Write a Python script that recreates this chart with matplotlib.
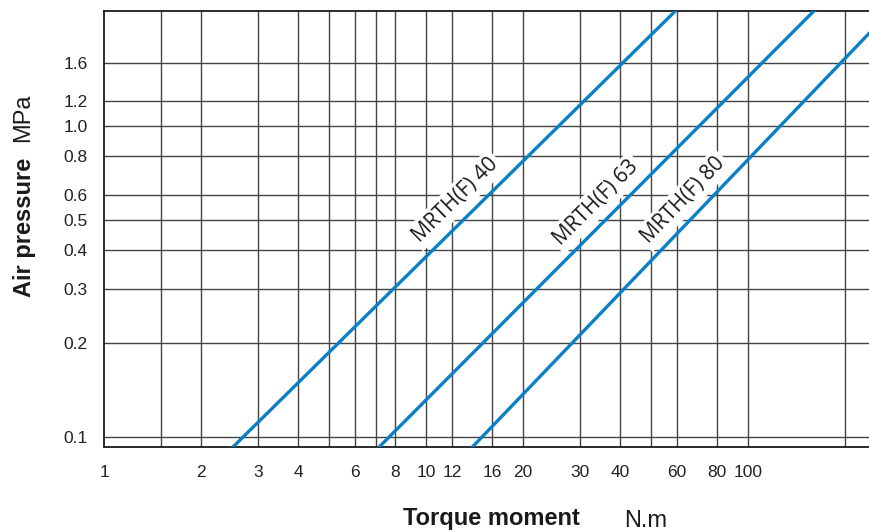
import numpy as np
import matplotlib
matplotlib.use("Agg")
import matplotlib.pyplot as plt
from matplotlib.ticker import FixedLocator, FixedFormatter, NullLocator

# Torque (N.m) read at the bottom and top edge pressures of the chart
series_names = ["MRTH(F) 40", "MRTH(F) 63", "MRTH(F) 80"]
pressure_mpa = [0.09, 2.4]
torque_40 = [2.43, 60.8]
torque_63 = [6.92, 163.7]
torque_80 = [13.5, 283.0]

x_grid = [1.5, 2, 3, 4, 5, 6, 7, 8, 10, 12, 16, 20, 30, 40, 50, 60, 80, 100, 200]
x_ticks = [1, 2, 3, 4, 6, 8, 10, 12, 16, 20, 30, 40, 60, 80, 100]
y_ticks = [0.1, 0.2, 0.3, 0.4, 0.5, 0.6, 0.8, 1.0, 1.2, 1.6]
y_tick_labels = ["0.1", "0.2", "0.3", "0.4", "0.5", "0.6", "0.8", "1.0", "1.2", "1.6"]

W, H = 870, 532
fig = plt.figure(figsize=(W / 100, H / 100), dpi=100)
ax = fig.add_axes([104.5 / W, 1 - 447 / H, 1 - 104.5 / W, (447 - 11) / H])
ax.set_xscale("log")
ax.set_yscale("log")
ax.set_xlim(1, 239)
ax.set_ylim(0.0929, 2.343)

grid_kw = dict(color="#444444", lw=1.0, zorder=1)
for gx in x_grid:
    ax.axvline(gx, **grid_kw)
for gy in y_ticks:
    ax.axhline(gy, **grid_kw)

blue = "#0a80c6"
torques = [torque_40, torque_63, torque_80]
for t in torques:
    ax.plot(t, pressure_mpa, color=blue, lw=2.4, zorder=4, solid_capstyle="butt")

ax.xaxis.set_major_locator(FixedLocator(x_ticks))
ax.xaxis.set_major_formatter(FixedFormatter([str(v) for v in x_ticks]))
ax.xaxis.set_minor_locator(NullLocator())
ax.yaxis.set_major_locator(FixedLocator(y_ticks))
ax.yaxis.set_major_formatter(FixedFormatter(y_tick_labels))
ax.yaxis.set_minor_locator(NullLocator())
ax.tick_params(axis="x", length=0, pad=13, labelsize=12.5, colors="#222222")
ax.tick_params(axis="y", length=0, pad=12, labelsize=12.5, colors="#222222")
for lab in ax.get_xticklabels() + ax.get_yticklabels():
    lab.set_fontfamily("Liberation Sans")

for side in ["left", "bottom", "top"]:
    ax.spines[side].set_color("#1a1a1a")
    ax.spines[side].set_linewidth(1.3)
ax.spines["right"].set_visible(False)

# series labels along the lines
label_pos = [(12.3, 0.578), (33.7, 0.566), (62.8, 0.578)]
fig.canvas.draw()
for name, t, (lx, ly) in zip(series_names, torques, label_pos):
    p0 = ax.transData.transform((t[0], pressure_mpa[0]))
    p1 = ax.transData.transform((t[1], pressure_mpa[1]))
    ang = np.degrees(np.arctan2(p1[1] - p0[1], p1[0] - p0[0]))
    ax.text(lx, ly, name, rotation=ang, rotation_mode="anchor",
            ha="center", va="center", fontsize=15, family="Open Sans",
            color="#1a1a1a", zorder=3,
            bbox=dict(facecolor="white", edgecolor="none", pad=2.5))

# axis titles
fig.text(403 / W, 1 - 519 / H, "Torque moment", fontsize=17, fontweight="bold",
         family="Liberation Sans", ha="left", va="center", color="#1a1a1a")
fig.text(624 / W, 1 - 521 / H, "N.m", fontsize=17,
         family="Liberation Sans", ha="left", va="center", color="#1a1a1a")
fig.text(25 / W, 1 - 227 / H, "Air pressure", fontsize=17, fontweight="bold",
         family="Liberation Sans", rotation=90, ha="center", va="center",
         color="#1a1a1a")
fig.text(23 / W, 1 - 118 / H, "MPa", fontsize=17,
         family="Liberation Sans", rotation=90, ha="center", va="center",
         color="#1a1a1a")

fig.savefig("out.png", dpi=100)
